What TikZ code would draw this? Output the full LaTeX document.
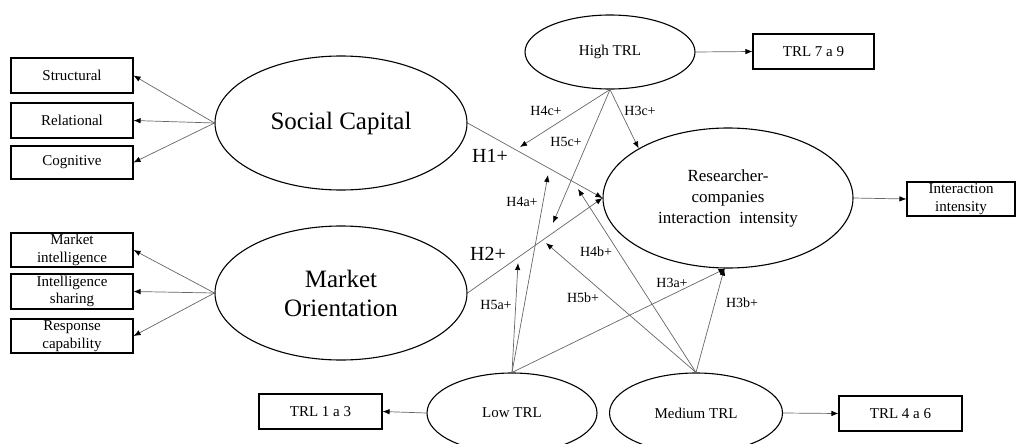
\documentclass[tikz,border=0pt]{standalone}
\usepackage{fontspec}
\setmainfont{Liberation Serif}
\usetikzlibrary{arrows.meta,shapes.geometric}
\begin{document}
\begin{tikzpicture}[x=1pt,y=-1pt,
  ell/.style={draw=black,line width=1.1pt,ellipse,inner sep=0pt,align=center},
  box/.style={draw=black,line width=1.1pt,rectangle,inner sep=0pt,align=center,minimum width=122pt,minimum height=35pt,font=\fontsize{15}{17.5}\selectfont},
  conn/.style={draw=black!60,line width=0.7pt,-{Latex[length=7pt,width=5.5pt,color=black]}},
  hyp/.style={font=\fontsize{14}{16}\selectfont,inner sep=0pt},
  bighyp/.style={font=\fontsize{20}{22}\selectfont,inner sep=0pt}]
\useasboundingbox (0,0) rectangle (1017,444);
\clip (0,0) rectangle (1017,444);

% ellipses
\node[ell,minimum width=252pt,minimum height=134pt,font=\fontsize{25}{29}\selectfont] (sc) at (341,123) {Social Capital};
\node[ell,minimum width=252pt,minimum height=134pt,font=\fontsize{25}{29}\selectfont] (mo) at (341,293) {Market\\Orientation};
\node[ell,minimum width=250pt,minimum height=140pt,font=\fontsize{17}{21}\selectfont] (rc) at (728,198) {Researcher-\\companies\\interaction\ \ intensity};
\node[ell,minimum width=170pt,minimum height=74pt,font=\fontsize{15}{17}\selectfont] (high) at (610,52) {High TRL};
\node[ell,minimum width=170pt,minimum height=80pt,font=\fontsize{15}{17}\selectfont] (low) at (512,413) {Low TRL};
\node[ell,minimum width=173pt,minimum height=80pt,font=\fontsize{15}{17}\selectfont] (med) at (696,413) {Medium TRL};

% boxes
\node[box] (struct) at (72,75.5) {Structural};
\node[box] (relat) at (72,120.5) {Relational};
\node[box,minimum height=33pt] (cogn) at (72,162.5) {Cognitive};
\node[box,minimum height=34pt] (mint) at (72,250) {Market\\intelligence};
\node[box] (ishare) at (72,291.5) {Intelligence\\sharing};
\node[box,minimum height=34pt] (resp) at (72,336) {Response\\capability};
\node[box,minimum width=121pt] (trl79) at (813.5,51.5) {TRL 7 a 9};
\node[box,minimum width=123pt] (trl13) at (320.5,411.5) {TRL 1 a 3};
\node[box,minimum width=123pt] (trl46) at (900.5,413.5) {TRL 4 a 6};
\node[box,minimum width=108pt,minimum height=34pt] (inter) at (961,199) {Interaction\\intensity};

% indicator arrows
\draw[conn] (sc.west) -- (struct.east);
\draw[conn] (sc.west) -- (relat.east);
\draw[conn] (sc.west) -- (cogn.east);
\draw[conn] (mo.west) -- (mint.east);
\draw[conn] (mo.west) -- (ishare.east);
\draw[conn] (mo.west) -- (resp.east);
\draw[conn] (high.east) -- (trl79.west);
\draw[conn] (rc.east) -- (inter.west);
\draw[conn] (low.west) -- (trl13.east);
\draw[conn] (med.east) -- (trl46.west);

% moderation targets
\coordinate (h4c) at (520,147);
\coordinate (h5c) at (553,223);
\coordinate (h4a) at (548,175);
\coordinate (h5a) at (518,263);
\coordinate (h4b) at (578,189);
\coordinate (h5b) at (546,243);

% structural paths
\draw[conn] (sc.east) -- (rc.west);
\draw[conn] (mo.east) -- (rc.west);
\draw[conn] (high.south) -- (h4c);
\draw[conn] (high.south) -- (h5c);
\draw[conn] (high.south) -- (rc.151);
\draw[conn] (low.north) -- (h4a);
\draw[conn] (low.north) -- (h5a);
\draw[conn] (low.north) -- (rc.268);
\draw[conn] (med.north) -- (h4b);
\draw[conn] (med.north) -- (h5b);
\draw[conn] (med.north) -- (rc.267);

% labels
\node[bighyp] (lh1) at (490,156) {H1+};
\node[bighyp] (lh2) at (488,254) {H2+};
\node[hyp] (lh4c) at (546,111) {H4c+};
\node[hyp] (lh3c) at (640,111) {H3c+};
\node[hyp] (lh5c) at (566,142) {H5c+};
\node[hyp] (lh4a) at (522,202) {H4a+};
\node[hyp] (lh4b) at (596,252) {H4b+};
\node[hyp] (lh5a) at (496,305) {H5a+};
\node[hyp] (lh5b) at (583,298) {H5b+};
\node[hyp] (lh3a) at (672,283) {H3a+};
\node[hyp] (lh3b) at (742,303) {H3b+};
\end{tikzpicture}
\end{document}
